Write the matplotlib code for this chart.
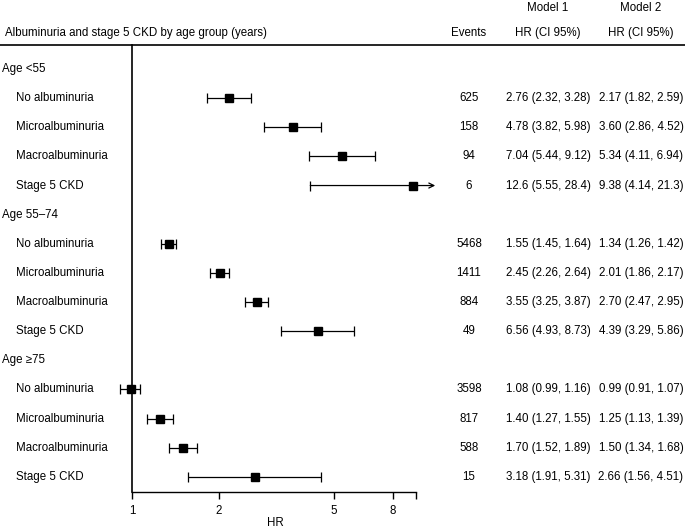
import matplotlib
matplotlib.use('Agg')
import matplotlib.pyplot as plt
import matplotlib.transforms as mtransforms
from matplotlib.lines import Line2D

plt.rcParams['font.family'] = ['Liberation Sans', 'DejaVu Sans']

groups = ['Age <55', 'Age 55\u201374', 'Age \u226575']
categories = ['No albuminuria', 'Microalbuminuria', 'Macroalbuminuria', 'Stage 5 CKD']
events = [625, 158, 94, 6, 5468, 1411, 884, 49, 3598, 817, 588, 15]

m1_hr = [2.76, 4.78, 7.04, 12.6, 1.55, 2.45, 3.55, 6.56, 1.08, 1.40, 1.70, 3.18]
m1_lo = [2.32, 3.82, 5.44, 5.55, 1.45, 2.26, 3.25, 4.93, 0.99, 1.27, 1.52, 1.91]
m1_hi = [3.28, 5.98, 9.12, 28.4, 1.64, 2.64, 3.87, 8.73, 1.16, 1.55, 1.89, 5.31]

m2_hr = [2.17, 3.60, 5.34, 9.38, 1.34, 2.01, 2.70, 4.39, 0.99, 1.25, 1.50, 2.66]
m2_lo = [1.82, 2.86, 4.11, 4.14, 1.26, 1.86, 2.47, 3.29, 0.91, 1.13, 1.34, 1.56]
m2_hi = [2.59, 4.52, 6.94, 21.3, 1.42, 2.17, 2.95, 5.86, 1.07, 1.39, 1.68, 4.51]

xticks = [1, 2, 5, 8, 9.6]
xticklabels = ['1', '2', '5', '8', '']
axis_max = 9.6
arrow_end = 11.2


def fmt(v):
    return '%.2f' % v if v < 10 else '%.1f' % v


def ci_text(hr, lo, hi):
    return '%s (%s, %s)' % (fmt(hr), fmt(lo), fmt(hi))


W, H = 685, 529
fig = plt.figure(figsize=(W / 100, H / 100), dpi=100)

ax_left, ax_right, ax_top, ax_bottom = 100, 450, 45, 492
ax = fig.add_axes([ax_left / W, 1 - ax_bottom / H, (ax_right - ax_left) / W, (ax_bottom - ax_top) / H])
ax.set_xscale('log')
ax.set_xlim(0.775, 12.6)
ax.set_ylim(14.52, -0.824)

trans = mtransforms.blended_transform_factory(fig.transFigure, ax.transData)
fs = 8.3

row = 0
k = 0
for g in groups:
    ax.text(2 / W, row, g, transform=trans, fontsize=fs, va='center', ha='left')
    row += 1
    for c in categories:
        ax.text(16 / W, row, c, transform=trans, fontsize=fs, va='center', ha='left')
        ax.text(469 / W, row, str(events[k]), transform=trans, fontsize=fs, va='center', ha='center')
        ax.text(548 / W, row, ci_text(m1_hr[k], m1_lo[k], m1_hi[k]), transform=trans,
                fontsize=fs, va='center', ha='center')
        ax.text(641 / W, row, ci_text(m2_hr[k], m2_lo[k], m2_hi[k]), transform=trans,
                fontsize=fs, va='center', ha='center')

        if m2_hi[k] > axis_max:
            # upper limit off the scale: open arrow instead of a cap
            ax.plot([m2_lo[k]], [row], marker='|', color='black', markersize=6.5, mew=0.9)
            ax.annotate('', xy=(arrow_end, row), xytext=(m2_lo[k], row),
                        arrowprops=dict(arrowstyle='->', color='black', lw=0.9,
                                        shrinkA=0, shrinkB=0, mutation_scale=9),
                        annotation_clip=False)
            ax.plot([m2_hr[k]], [row], marker='s', color='black', markersize=6)
        else:
            ax.errorbar([m2_hr[k]], [row],
                        xerr=[[m2_hr[k] - m2_lo[k]], [m2_hi[k] - m2_hr[k]]],
                        fmt='s', color='black', markersize=6, capsize=3.4,
                        elinewidth=0.9, capthick=0.9)
        row += 1
        k += 1

for s in ['top', 'right']:
    ax.spines[s].set_visible(False)
ax.spines['left'].set_position(('data', 1))
ax.spines['left'].set_linewidth(1.2)
ax.spines['bottom'].set_linewidth(1.0)
ax.spines['bottom'].set_bounds(1, axis_max)
ax.set_yticks([])
ax.set_xticks(xticks)
ax.set_xticklabels(xticklabels, fontsize=fs)
ax.xaxis.set_minor_locator(matplotlib.ticker.NullLocator())
ax.tick_params(axis='x', length=5, width=1.0, pad=4)
fig.text(275 / W, 1 - 523 / H, 'HR', fontsize=fs, va='center', ha='center')

# header
fig.add_artist(Line2D([0, 1], [1 - 45 / H, 1 - 45 / H], transform=fig.transFigure,
                      color='black', lw=1.2))
fig.text(5 / W, 1 - 33 / H, 'Albuminuria and stage 5 CKD by age group (years)',
         fontsize=fs, va='center', ha='left')
fig.text(469 / W, 1 - 33 / H, 'Events', fontsize=fs, va='center', ha='center')
fig.text(548 / W, 1 - 33 / H, 'HR (CI 95%)', fontsize=fs, va='center', ha='center')
fig.text(641 / W, 1 - 33 / H, 'HR (CI 95%)', fontsize=fs, va='center', ha='center')
fig.text(548 / W, 1 - 8 / H, 'Model 1', fontsize=fs, va='center', ha='center')
fig.text(641 / W, 1 - 8 / H, 'Model 2', fontsize=fs, va='center', ha='center')

fig.savefig('out.png', dpi=100)
